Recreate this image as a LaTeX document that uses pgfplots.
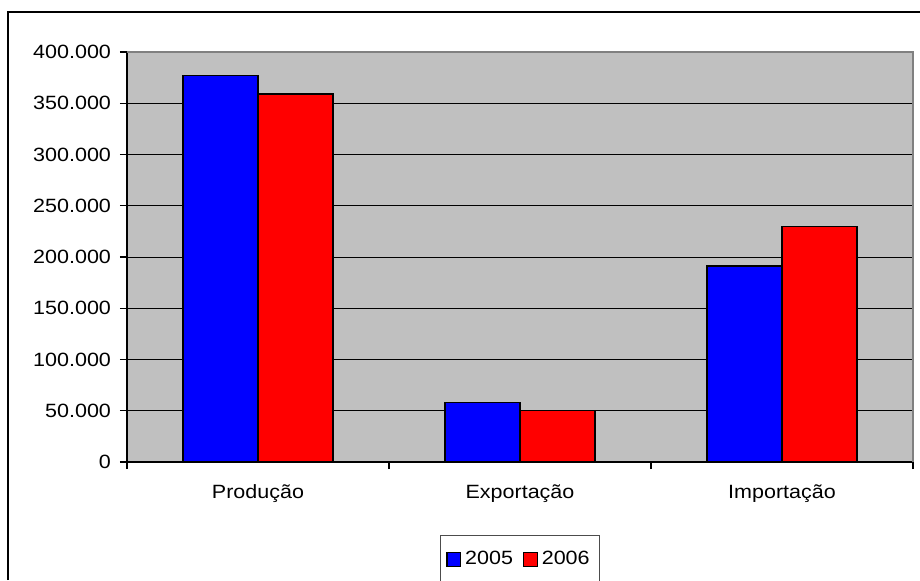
\documentclass[border=0pt]{standalone}
\usepackage{pgfplots}
\pgfplotsset{compat=1.18}
\usepackage{fontspec}
\setmainfont{Liberation Sans}[FakeStretch=1.12]
\definecolor{plotgray}{HTML}{C0C0C0}
\begin{document}
\begin{tikzpicture}[x=1pt,y=1pt]
\useasboundingbox (0,0) rectangle (460,290);
\draw[black, line width=0.6pt] (4,0) -- (4,284) -- (460,284);
\begin{axis}[
  at={(63.5pt,59pt)}, anchor=south west,
  scale only axis, width=393pt, height=205pt,
  xmin=-0.5, xmax=2.5, ymin=0, ymax=400000,
  axis background/.style={fill=plotgray},
  axis x line*=bottom, axis y line*=left,
  axis line style={black, line width=0.6pt},
  ybar=0pt, bar width=37.5pt,
  xtick={-0.5,0.5,1.5,2.5},
  xticklabels={Produção,Exportação,Importação},
  x tick label as interval=true,
  ytick={0,50000,100000,150000,200000,250000,300000,350000,400000},
  ymajorgrids, grid style={black, line width=0.5pt},
  tick align=outside, major tick length=3.5pt,
  tick style={black, line width=0.6pt},
  /pgf/number format/.cd, fixed, 1000 sep={.}, assume math mode=true, /pgfplots/.cd,
  scaled y ticks=false,
  tick label style={font=\fontsize{9.6}{11}\selectfont},
  yticklabel style={xshift=-1pt},
  xticklabel style={yshift=-4.5pt},
  legend style={at={(0.5,-0.178)}, anchor=north, draw=black!70, line width=0.5pt,
    font=\fontsize{9.6}{11}\selectfont, inner xsep=3pt, inner ysep=6pt,
    /tikz/every even column/.append style={column sep=3pt}},
  legend columns=2,
  clip=false,
]
\addplot[fill=blue, draw=black, line width=0.7pt,
  legend image code/.code={\draw[fill=blue, draw=black, line width=0.6pt] (0pt,-3.4pt) rectangle (6.8pt,3.4pt);}]
  coordinates {(0,376900) (1,58200) (2,191200)};
\addplot[fill=red, draw=black, line width=0.7pt,
  legend image code/.code={\draw[fill=red, draw=black, line width=0.6pt] (0pt,-3.4pt) rectangle (6.8pt,3.4pt);}]
  coordinates {(0,359000) (1,50500) (2,230000)};
\legend{2005,2006}
\draw[black!50, line width=0.8pt] (rel axis cs:0,1) -- (rel axis cs:1,1) -- (rel axis cs:1,0);
\end{axis}
\end{tikzpicture}
\end{document}
